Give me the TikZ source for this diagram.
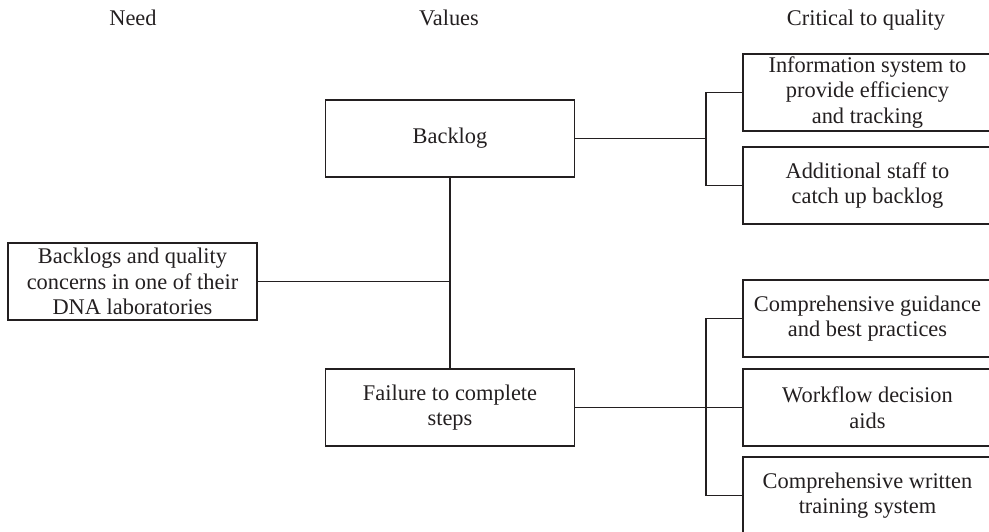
\documentclass[tikz,border=0pt]{standalone}
\usepackage{fontspec}
\setmainfont{Liberation Serif}
\definecolor{ink}{RGB}{35,31,32}
\begin{document}
\begin{tikzpicture}[x=1pt,y=-1pt,
  every node/.style={text=ink,font=\fontsize{22.4}{25.5}\selectfont},
  box/.style={draw=ink,line width=1.3pt,minimum width=249pt,minimum height=77pt,
    align=center,inner sep=0pt},
  head/.style={anchor=base},
  link/.style={draw=ink,line width=1.3pt}]
\useasboundingbox (0,0) rectangle (989,531);
\clip (0,0) rectangle (989,531);

% column headings
\node[head] (hneed) at (133,25) {Need};
\node[head] (hval)  at (449,25) {Values};
\node[head] (hctq)  at (866,25) {Critical to quality};

% need and values
\node[box] (need)    at (132.5,281.5) {Backlogs and quality\\concerns in one of their\\DNA laboratories};
\node[box] (backlog) at (450,138.5) {Backlog};
\node[box] (failure) at (450,407.5) {Failure to complete\\steps};

% critical to quality
\node[box] (info)  at (867.5,92.5)  {Information system to\\provide efficiency\\and tracking};
\node[box] (staff) at (867.5,185.5) {Additional staff to\\catch up backlog};
\node[box] (guide) at (867.5,318.5) {Comprehensive guidance\\and best practices};
\node[box] (flow)  at (867.5,407.5) {Workflow decision\\aids};
\node[box] (train) at (867.5,495.5) {Comprehensive written\\training system};

% bracket spine position
\coordinate (bx) at (706,0);

% connectors
\draw[link] (backlog.south) -- (failure.north);
\draw[link] (need.east) -- (need.east -| backlog.south);
\draw[link] (backlog.east) -- (backlog.east -| bx);
\draw[link] (info.west) -- (info.west -| bx) -- (staff.west -| bx) -- (staff.west);
\draw[link] (failure.east) -- (flow.west);
\draw[link] (guide.west) -- (guide.west -| bx) -- (train.west -| bx) -- (train.west);
\end{tikzpicture}
\end{document}
